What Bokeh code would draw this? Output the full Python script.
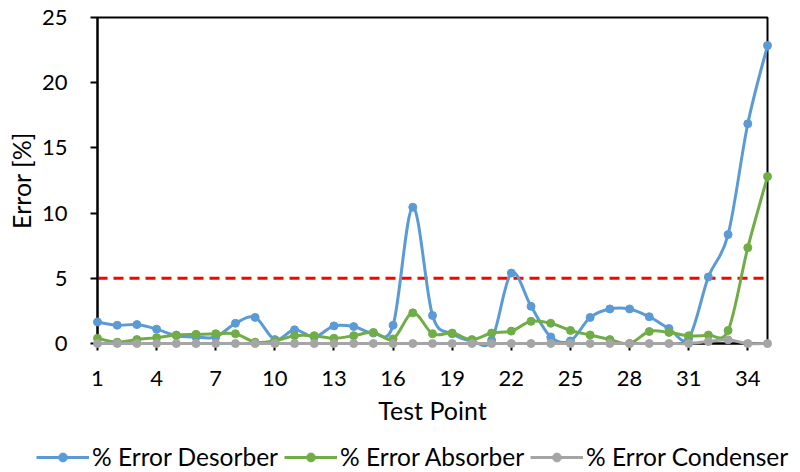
import numpy as np
from bokeh.plotting import figure
from bokeh.layouts import column
from bokeh.models import (ColumnDataSource, FixedTicker, Legend, LegendItem, Span, Range1d)
from bokeh.embed import file_html
from bokeh.resources import INLINE

# ---- data ----
test_points = list(range(1, 36))
err_desorber = [1.65, 1.4, 1.45, 1.1, 0.6, 0.5, 0.5, 1.55, 2.0, 0.3,
                1.05, 0.5, 1.35, 1.3, 0.8, 1.4, 10.45, 2.15, 0.75, 0.2,
                0.25, 5.4, 2.85, 0.5, 0.2, 2.0, 2.65, 2.65, 2.05, 1.15,
                0.4, 5.1, 8.35, 16.85, 22.85]
err_absorber = [0.4, 0.1, 0.3, 0.45, 0.65, 0.7, 0.75, 0.75, 0.1, 0.2,
                0.6, 0.6, 0.4, 0.6, 0.85, 0.35, 2.35, 0.75, 0.8, 0.3,
                0.8, 0.95, 1.7, 1.55, 1.0, 0.65, 0.3, 0.0, 0.92, 0.85,
                0.6, 0.65, 1.0, 7.35, 12.8]
err_condenser = [0.0] * 31 + [0.15, 0.28, 0.0, 0.0]
threshold = 5
x_ticks = list(range(1, 35, 3))
y_ticks = [0, 5, 10, 15, 20, 25]

series = [
    ("% Error Desorber", err_desorber, "#5B9BD5"),
    ("% Error Absorber", err_absorber, "#70AD47"),
    ("% Error Condenser", err_condenser, "#A5A5A5"),
]

FONT = "Lato"

p = figure(width=800, height=440, output_backend="svg", toolbar_location=None,
           x_range=Range1d(1, 35), y_range=Range1d(0, 25),
           min_border_left=97, min_border_right=33, min_border_top=17,
           min_border_bottom=97)
p.background_fill_color = "white"
p.border_fill_color = "white"
p.outline_line_color = "black"
p.outline_line_width = 2
p.grid.visible = False

p.add_layout(Span(location=threshold, dimension="width", line_color="#FF0000",
                  line_width=3, line_dash="10 6", level="underlay"))


def smooth_segments(xs, ys):
    x = np.asarray(xs, dtype=float)
    y = np.asarray(ys, dtype=float)
    n = len(x)
    i = np.arange(n - 1)
    im1 = np.maximum(i - 1, 0)
    ip2 = np.minimum(i + 2, n - 1)
    return dict(
        x0=x[i], y0=y[i], x1=x[i + 1], y1=y[i + 1],
        cx0=x[i] + (x[i + 1] - x[im1]) / 6.0,
        cy0=y[i] + (y[i + 1] - y[im1]) / 6.0,
        cx1=x[i + 1] - (x[ip2] - x[i]) / 6.0,
        cy1=y[i + 1] - (y[ip2] - y[i]) / 6.0,
    )


# legend-only strip below the chart (same series, drawn outside its visible range)
lg = figure(width=800, height=32, output_backend="svg", toolbar_location=None,
            x_range=Range1d(100, 101), y_range=Range1d(100, 101),
            x_axis_type=None, y_axis_type=None,
            min_border_left=0, min_border_right=0, min_border_top=0,
            min_border_bottom=0)
lg.outline_line_color = None
lg.grid.visible = False
lg.background_fill_color = "white"
lg.border_fill_color = "white"

# keep the legend strip's frame independent of the chart's frame
try:
    p.frame_align = False
    lg.frame_align = False
    aligned = False
except AttributeError:
    aligned = True

items = []
for label, vals, color in series:
    seg = ColumnDataSource(smooth_segments(test_points, vals))
    pts = ColumnDataSource(dict(x=test_points, y=vals))
    p.bezier(x0="x0", y0="y0", x1="x1", y1="y1", cx0="cx0", cy0="cy0",
             cx1="cx1", cy1="cy1", source=seg, line_color=color, line_width=3,
             level="annotation")
    p.scatter("x", "y", source=pts, size=8, fill_color=color, line_color=color,
              level="annotation")
    lb = lg.line("x", "y", source=pts, line_color=color, line_width=3)
    ls = lg.scatter("x", "y", source=pts, size=8, fill_color=color, line_color=color)
    items.append(LegendItem(label=label, renderers=[lb, ls]))

for ax in (p.xaxis[0], p.yaxis[0]):
    ax.axis_line_color = "black"
    ax.axis_line_width = 2
    ax.major_tick_line_color = "black"
    ax.major_tick_line_width = 2
    ax.major_tick_in = 0
    ax.major_tick_out = 7
    ax.minor_tick_line_color = None
    ax.major_label_text_font = FONT
    ax.major_label_text_font_size = "22px"
    ax.major_label_text_color = "black"
    ax.axis_label_text_font = FONT
    ax.axis_label_text_font_size = "25px"
    ax.axis_label_text_font_style = "normal"
    ax.axis_label_text_color = "black"

p.xaxis.ticker = FixedTicker(ticks=x_ticks)
p.yaxis.ticker = FixedTicker(ticks=y_ticks)
p.xaxis.axis_label = "Test Point"
p.yaxis.axis_label = "Error [%]"
p.xaxis.major_label_standoff = 20
p.xaxis.axis_label_standoff = 6
p.yaxis.major_label_standoff = 23
p.yaxis.axis_label_standoff = 3

if aligned:
    leg_loc, leg_font, leg_glyph = (0, 1), "21px", 40
else:
    leg_loc, leg_font, leg_glyph = (36, 1), "24.5px", 53

legend = Legend(items=items, orientation="horizontal", location=leg_loc,
                label_text_font=FONT, label_text_font_size=leg_font,
                label_text_color="black", glyph_width=leg_glyph, glyph_height=22,
                spacing=6, padding=0, margin=0, border_line_color=None,
                background_fill_alpha=0, label_standoff=3)
lg.add_layout(legend, "center")

layout = column(p, lg, spacing=0)
open("out.html", "w").write(file_html(layout, INLINE))
